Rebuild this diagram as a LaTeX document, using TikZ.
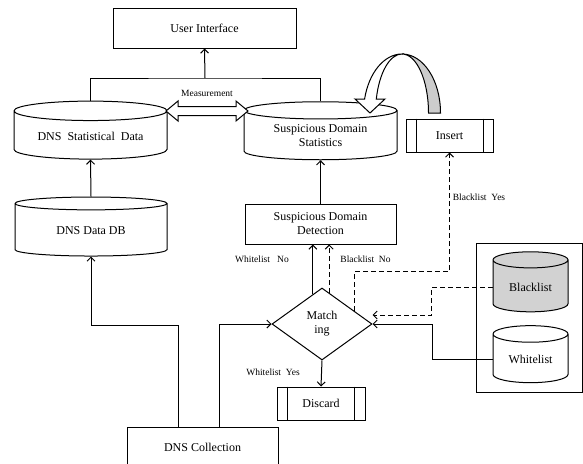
\documentclass[tikz,border=0pt]{standalone}
\usepackage{fontspec}
\setmainfont{Liberation Serif}
\usetikzlibrary{shapes.geometric}
\usetikzlibrary{arrows.meta}

\begin{document}
\begin{tikzpicture}[x=1pt, y=-1pt, line width=1pt,
	every node/.style={font=\fontsize{12}{14}\selectfont, align=center, inner sep=1pt},
	box/.style={draw, rectangle, minimum width=#1, minimum height=40pt},
	db/.style={draw, cylinder, shape border rotate=90, aspect=#1},
	lbl/.style={font=\fontsize{9.5}{11}\selectfont, inner sep=0pt},
	arr/.style={-{Straight Barb[length=4pt,width=8pt]}},
	dashline/.style={dash pattern=on 5pt off 3pt}]
	\useasboundingbox (0,0) rectangle (583,463);
	
	\node[box=183pt] (ui) at (204.5, 28) {User Interface};
	\node[db=0.18, minimum width=153pt, minimum height=58pt] (dnsstat) at (90.5, 136) {DNS\ \ Statistical\ \ Data};
	\node[db=0.18, minimum width=153pt, minimum height=58pt] (sdstat) at (320.5, 136) {Suspicious Domain\\Statistics};
	\node[db=0.18, minimum width=152pt, minimum height=59pt] (dnsdb) at (91, 230.5) {DNS Data DB};
	\node[box=151pt] (detect) at (320.5, 224) {Suspicious Domain\\Detection};
	\node[draw, diamond, minimum width=100pt, minimum height=72pt, inner sep=0pt] (match) at (322, 324) {Match\\ing};
	\node[box=88pt, minimum height=33pt] (discard) at (321, 403.5) {Discard};
	\node[box=87pt, minimum height=33pt] (insert) at (449.5, 135.5) {Insert};
	\node[box=151pt] (collect) at (202.5, 447) {DNS Collection};
	\node[draw, minimum width=106pt, minimum height=149pt] (lists) at (529, 317.5) {};
	\node[db=0.36, fill=gray!35, minimum width=75pt, minimum height=60pt] (black) at (530.5, 287) {Blacklist};
	\node[db=0.36, minimum width=75pt, minimum height=57pt] (white) at (530.5, 359.5) {Whitelist};
	
	% double bars of the process boxes
	\draw ([xshift=11pt]discard.north west) -- ([xshift=11pt]discard.south west);
	\draw ([xshift=-11pt]discard.north east) -- ([xshift=-11pt]discard.south east);
	\draw ([xshift=11pt]insert.north west) -- ([xshift=11pt]insert.south west);
	\draw ([xshift=-10pt]insert.north east) -- ([xshift=-10pt]insert.south east);
	
	% statistics up to the interface
	\coordinate (bus) at (205, 78);
	\draw (dnsstat.north) |- (bus) -| (sdstat.north);
	\draw[arr] (bus) -- (ui.south);
	
	% measurement arrow
	\draw[fill=white] (166,111) -- (178,101) -- (178,106.5) -- (236,106.5) -- (236,101) -- (248,111)
		-- (236,121) -- (236,115.5) -- (178,115.5) -- (178,121) -- cycle;
	\node[lbl] (meas) at (207, 93) {Measurement};
	
	% curved arrow from insert
	\draw[fill=gray!40] (440.5,113) arc[start angle=0, end angle=90, x radius=38.5pt, y radius=59pt]
		arc[start angle=90, end angle=0, x radius=26.5pt, y radius=59pt] -- cycle;
	\draw[fill=white] (402,54) arc[start angle=90, end angle=166.3, x radius=38.5pt, y radius=59pt]
		-- (355,99) -- (370,113) -- (385,99) -- (376.3,99)
		arc[start angle=166.3, end angle=90, x radius=26.5pt, y radius=59pt] -- cycle;
	
	% connectors
	\draw[arr] (dnsdb.north) -- (dnsstat.south);
	\draw[arr] (detect.north) -- (sdstat.south);
	\draw[arr] ([xshift=-24.5pt]collect.north) -- ++(0,-101) -| (dnsdb.south);
	\draw[arr] ([xshift=16.5pt]collect.north) |- (match.west);
	\draw[arr] (match.south) -- (discard.north);
	\draw[arr] (match.107) -- (match.107 |- detect.south);
	\draw[arr, dashline] (match.77) -- (match.77 |- detect.south);
	\draw[arr] (white.west) -- ++(-60,0) |- (match.east);
	\draw[arr, dashline] (black.west) -- ++(-61,0) |- ([yshift=9pt]match.east);
	\draw[arr, dashline] (match.22) -- ++(0,-39) -| (insert.south);
	
	\node[lbl] (wlno) at (262, 259) {Whitelist\ \ \ No};
	\node[lbl] (blno) at (365.5, 259) {Blacklist\ \ No};
	\node[lbl] (wlyes) at (273, 372) {Whitelist\ \ Yes};
	\node[lbl] (blyes) at (479, 197) {Blacklist\ \ Yes};
	
\end{tikzpicture}
\end{document}
